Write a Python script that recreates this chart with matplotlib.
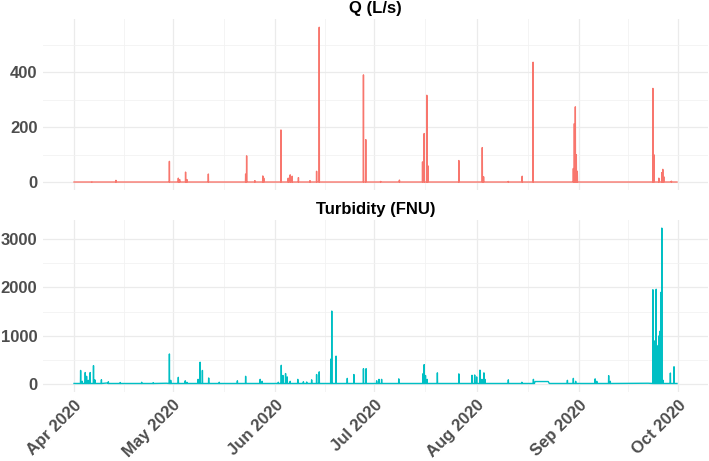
import numpy as np
import pandas as pd
import matplotlib
matplotlib.use("Agg")
import matplotlib.pyplot as plt

plt.rcParams['font.family'] = ['Liberation Sans', 'DejaVu Sans']

start = pd.Timestamp("2020-04-01")
end_day = 182.7  # last record, days after start

# Q (L/s): flow peaks, days after 2020-04-01
q_day = [5.4, 12.7, 28.9, 31.6, 32.0, 33.8, 34.2, 40.7, 52.0, 52.3, 54.8, 57.2, 57.5,
         62.7, 64.9, 65.5, 66.1, 68.0, 71.5, 73.5, 74.3, 87.7, 88.4, 92.9, 98.6,
         105.6, 106.1, 106.9, 107.2, 116.6, 123.7, 124.1, 131.6, 135.8, 139.1,
         151.3, 151.6, 151.9, 152.2, 152.5, 175.4, 175.7, 177.2, 178.1, 178.4, 178.7, 181.0]
q_val = [2, 7, 76, 15, 10, 37, 10, 30, 30, 96, 6, 23, 15,
         190, 15, 27, 22, 17, 6, 40, 563, 390, 155, 3, 8,
         74, 177, 316, 60, 79, 126, 20, 3, 22, 436,
         50, 213, 274, 100, 40, 341, 100, 15, 35, 47, 20, 4]
q_base = 1.0
q_level_day = [0.0, end_day]
q_level_val = [1.0, 1.0]

# Turbidity (FNU): peaks, days after 2020-04-01
turb_day = [2.0, 2.5, 3.4, 3.8, 4.3, 4.9, 5.9, 6.3, 8.3, 10.4, 14.0, 20.5, 24.0,
            28.9, 29.3, 31.6, 33.7, 34.2, 37.6, 38.2, 38.9, 40.8, 44.0, 49.5, 52.0,
            56.4, 57.0, 61.9, 62.8, 63.3, 64.1, 64.6, 65.5, 67.8, 69.5, 70.5, 72.0,
            73.5, 74.3, 77.8, 78.1, 79.4, 82.8, 84.8, 87.7, 88.5, 91.7, 92.4, 93.2,
            98.4, 105.8, 106.1, 106.5, 107.0, 110.1, 116.6, 120.6, 121.4, 122.0,
            123.0, 123.6, 124.2, 124.5, 131.6, 135.7, 139.2, 149.5, 151.3, 152.0,
            157.9, 158.4, 162.0, 162.5,
            175.4, 175.6, 175.8, 175.95, 176.1, 176.25, 176.4, 176.55, 176.7, 176.85,
            177.0, 177.15, 177.3, 177.45, 177.6, 177.75, 177.9, 178.1, 178.5,
            180.7, 181.8]
turb_val = [284, 60, 241, 163, 80, 241, 383, 90, 92, 50, 35, 40, 30,
            624, 80, 142, 70, 40, 100, 454, 284, 128, 40, 70, 163,
            100, 60, 40, 390, 180, 220, 150, 60, 100, 50, 45, 90,
            200, 255, 518, 1510, 580, 120, 200, 320, 320, 70, 100, 100,
            110, 220, 404, 180, 100, 234, 213, 184, 190, 150,
            290, 100, 234, 100, 90, 40, 100, 80, 120, 60,
            110, 60, 177, 60,
            1950, 500, 670, 450, 900, 550, 1960, 350, 600, 400,
            800, 700, 1000, 600, 1097, 500, 1900, 3223, 80,
            230, 360]
turb_base = 15.0
turb_level_day = [0.0, 10.0, 28.0, 100.0, 139.5, 139.7, 143.7, 144.0, 174.0, end_day]
turb_level_val = [15, 25, 20, 15, 15, 55, 55, 15, 20, 15]

month_ticks = ["2020-04-01", "2020-05-01", "2020-06-01", "2020-07-01",
               "2020-08-01", "2020-09-01", "2020-10-01"]
month_labels = ["Apr 2020", "May 2020", "Jun 2020", "Jul 2020",
                "Aug 2020", "Sep 2020", "Oct 2020"]


def build(spike_day, spike_val, base, level_day, level_val, w=0.05):
    # each peak drawn as a narrow rise and fall on the baseline
    d = list(level_day)
    v = list(level_val)
    for sd, sv in zip(spike_day, spike_val):
        d += [sd - w, sd, sd + w]
        v += [base, sv, base]
    order = np.argsort(d, kind="stable")
    t = start + pd.to_timedelta(np.array(d)[order], unit="D")
    return t, np.array(v)[order]


grey_txt = '#4D4D4D'
fig = plt.figure(figsize=(7.09, 4.61), dpi=100)
ax1 = fig.add_axes([43/709, 1-190/461, 665/709, 171/461])
ax2 = fig.add_axes([43/709, 1-392/461, 665/709, 172/461])

major = pd.to_datetime(month_ticks)
minor = major[:-1] + (major[1:] - major[:-1]) / 2

panels = [
    (ax1, build(q_day, q_val, q_base, q_level_day, q_level_val), '#F8766D',
     "Q (L/s)", (-28, 593), [0, 200, 400], [100, 300, 500]),
    (ax2, build(turb_day, turb_val, turb_base, turb_level_day, turb_level_val), '#00BFC4',
     "Turbidity (FNU)", (-161, 3390), [0, 1000, 2000, 3000], [500, 1500, 2500]),
]

for ax, (t, v), col, title, ylim, yt, ymin in panels:
    ax.plot(t, v, color=col, lw=1.0)
    ax.set_xlim(start - pd.Timedelta(days=9.4), start + pd.Timedelta(days=192.1))
    ax.set_ylim(*ylim)
    ax.set_xticks(major)
    ax.set_xticks(minor, minor=True)
    ax.set_yticks(yt)
    ax.set_yticks(ymin, minor=True)
    ax.grid(which='major', color='#EBEBEB', lw=0.9)
    ax.grid(which='minor', color='#F2F2F2', lw=0.6)
    ax.set_axisbelow(True)
    for s in ax.spines.values():
        s.set_visible(False)
    ax.tick_params(which='both', length=0)
    ax.tick_params(axis='y', pad=4)
    ax.set_yticklabels([str(y) for y in yt], fontsize=12, fontweight='bold', color=grey_txt)
    ax.set_title(title, fontsize=12, fontweight='bold', pad=4)

ax1.set_xticklabels([])
ax2.set_xticklabels(month_labels, rotation=45, ha='right', rotation_mode='anchor',
                    fontsize=12, fontweight='bold', color=grey_txt)
ax2.tick_params(axis='x', pad=4)

fig.savefig("out.png", dpi=100)
